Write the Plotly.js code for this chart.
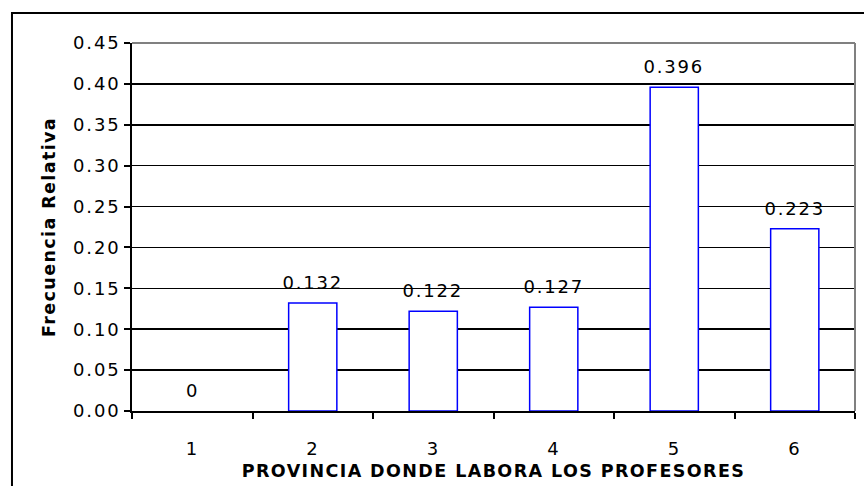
<!DOCTYPE html>
<html>
<head>
<meta charset="utf-8">
<script src="https://cdn.plot.ly/plotly-3.0.1.min.js"></script>
<style>
html,body{margin:0;padding:0;background:#fff;}
#chart{width:864px;height:486px;}
#chart .xtick text, #chart .ytick text, #chart .annotation-text{letter-spacing:1.8px;}
#chart .xtitle, #chart .ytitle{letter-spacing:1.4px;}
</style>
</head>
<body>
<div id="chart"></div>
<script>
const categories = ['1', '2', '3', '4', '5', '6'];
const values = [0, 0.132, 0.122, 0.127, 0.396, 0.223];
const valueLabels = ['0', '0.132', '0.122', '0.127', '0.396', '0.223'];
const xTitle = 'PROVINCIA DONDE LABORA LOS PROFESORES';
const yTitle = 'Frecuencia Relativa';

const fam = 'DejaVu Sans, Verdana, sans-serif';
const font = {family: fam, size: 18, color: '#000'};
const titleFont = {family: fam, size: 17.5, color: '#000'};

const trace = {
  type: 'bar',
  x: categories,
  y: values,
  width: 0.4,
  marker: {color: '#ffffff', line: {color: values.map(v => v > 0 ? '#0000ff' : 'rgba(0,0,0,0)'), width: 1.5}},
  hoverinfo: 'none'
};

const annotations = categories.map((c, i) => ({
  x: i, y: values[i], xref: 'x', yref: 'y', text: valueLabels[i], showarrow: false,
  yanchor: 'bottom', yshift: 8, font: font
}));

const layout = {
  width: 864, height: 486,
  margin: {l: 132, r: 9, t: 43, b: 75},
  paper_bgcolor: '#fff', plot_bgcolor: '#fff',
  font: font,
  showlegend: false,
  xaxis: {
    type: 'category',
    range: [-0.5, 5.5],
    showgrid: false,
    showline: true, linecolor: '#000', linewidth: 2,
    ticks: 'outside', tickson: 'boundaries', ticklen: 6, tickwidth: 2, tickcolor: '#000',
    ticklabelstandoff: 20,
    tickfont: font,
    title: {text: '<b>' + xTitle + '</b>', font: titleFont, standoff: 7}
  },
  yaxis: {
    range: [0, 0.45], dtick: 0.05, tickformat: '.2f',
    showgrid: true, gridcolor: '#000', gridwidth: 1.5,
    showline: true, linecolor: '#000', linewidth: 2,
    ticks: 'outside', ticklen: 6, tickwidth: 2, tickcolor: '#000',
    tickfont: font,
    zeroline: false,
    title: {text: '<b>' + yTitle + '</b>', font: titleFont, standoff: 20}
  },
  annotations: annotations,
  shapes: [
    {type: 'line', xref: 'paper', yref: 'paper', x0: 0, x1: 1, y0: 1, y1: 1, line: {color: '#808080', width: 2}},
    {type: 'line', xref: 'paper', yref: 'paper', x0: 1, x1: 1, y0: 0, y1: 1, line: {color: '#808080', width: 2}},
    {type: 'rect', xref: 'paper', yref: 'paper', x0: -0.166, x1: 1.03, y0: -0.25, y1: 1.0815, line: {color: '#000', width: 2}, fillcolor: 'rgba(0,0,0,0)'}
  ]
};

Plotly.newPlot('chart', [trace], layout, {displayModeBar: false, staticPlot: true});
</script>
</body>
</html>
